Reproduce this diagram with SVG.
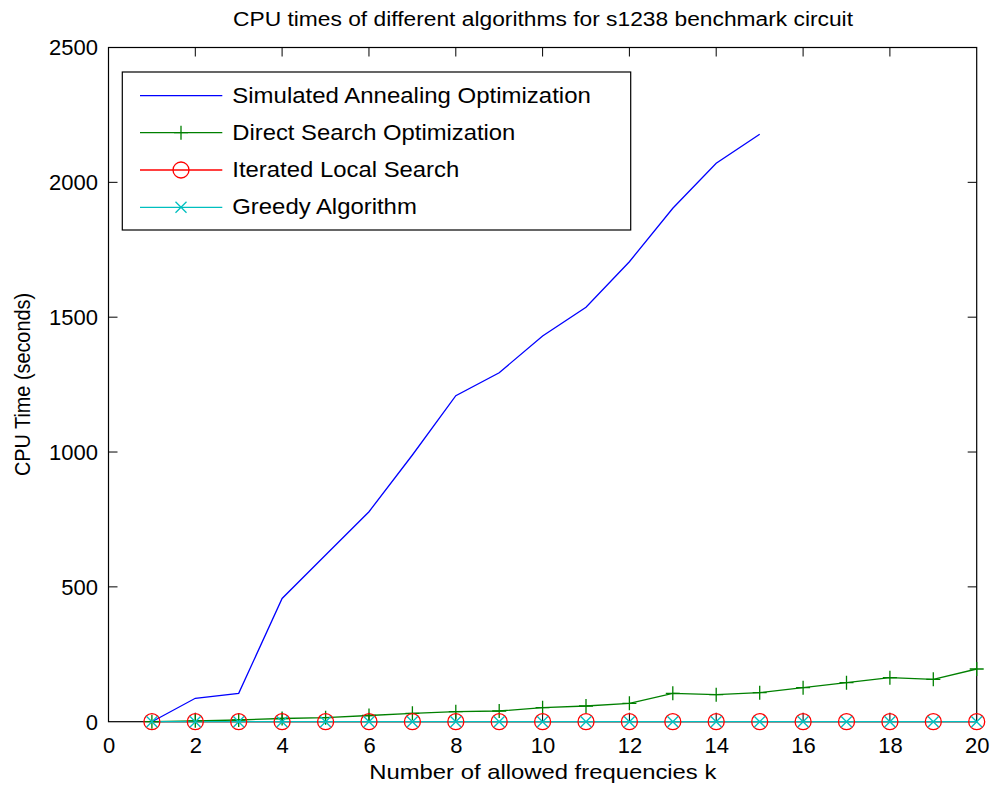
<svg xmlns="http://www.w3.org/2000/svg" width="994" height="791" viewBox="0 0 994 791">
<style>
text{font-family:"Liberation Sans",Arial,sans-serif;fill:#000}
.t{font-size:20px}
.lg{font-size:22px}
.xt{font-size:22px}
.ax{fill:none;stroke:#000;stroke-width:1.2}
.tick{stroke:#000;stroke-width:1}
.sa{fill:none;stroke:#0000ff;stroke-width:1.3}
.ds{fill:none;stroke:#008000;stroke-width:1.3}
.ils{fill:none;stroke:#ff0000;stroke-width:1.3}
.gr{fill:none;stroke:#00bfbf;stroke-width:1.3}
</style>
<defs>
<path id="mp" d="M-7,0H7M0,-7V7" fill="none" stroke="#008000" stroke-width="1.3"/>
<circle id="mc" r="8" fill="none" stroke="#ff0000" stroke-width="1.3"/>
<path id="mx" d="M-5.5,-5.5L5.5,5.5M-5.5,5.5L5.5,-5.5" fill="none" stroke="#00bfbf" stroke-width="1.3"/>
</defs>
<rect width="994" height="791" fill="#fff"/>
<g id="axes">
<rect class="ax" x="108.5" y="47.5" width="868.2" height="674.2"/>
<g class="tick">
<path d="M195.3,721.7v-9M282.1,721.7v-9M368.96,721.7v-9M455.8,721.7v-9M542.6,721.7v-9M629.4,721.7v-9M716.2,721.7v-9M803.1,721.7v-9M889.9,721.7v-9"/>
<path d="M195.3,47.5v9M282.1,47.5v9M368.96,47.5v9M455.8,47.5v9M542.6,47.5v9M629.4,47.5v9M716.2,47.5v9M803.1,47.5v9M889.9,47.5v9"/>
<path d="M108.5,586.86h9M108.5,452.02h9M108.5,317.18h9M108.5,182.34h9"/>
<path d="M976.7,586.86h-9M976.7,452.02h-9M976.7,317.18h-9M976.7,182.34h-9"/>
</g>
<g class="xt" text-anchor="middle">
<text x="109" y="752.5">0</text>
<text x="195.8" y="752.5">2</text>
<text x="282.6" y="752.5">4</text>
<text x="369.5" y="752.5">6</text>
<text x="456.3" y="752.5">8</text>
<text x="543.1" y="752.5">10</text>
<text x="629.9" y="752.5">12</text>
<text x="716.7" y="752.5">14</text>
<text x="803.6" y="752.5">16</text>
<text x="890.4" y="752.5">18</text>
<text x="977.2" y="752.5">20</text>
</g>
<g class="xt" text-anchor="end">
<text x="98" y="729.5">0</text>
<text x="98" y="594.7">500</text>
<text x="98" y="459.8">1000</text>
<text x="98" y="325">1500</text>
<text x="98" y="190.1">2000</text>
<text x="98" y="55.3">2500</text>
</g>
<text font-size="21" x="369.3" y="779.3" textLength="347" lengthAdjust="spacingAndGlyphs">Number of allowed frequencies k</text>
<text font-size="22" transform="translate(29.5,476) rotate(-90)" textLength="183" lengthAdjust="spacingAndGlyphs">CPU Time (seconds)</text>
<text font-size="20" x="233" y="26" textLength="620" lengthAdjust="spacingAndGlyphs">CPU times of different algorithms for s1238 benchmark circuit</text>
</g>
<g id="connectors">
<polyline id="sa-line" class="sa" points="151.9,721.7 195.3,698.3 238.7,693.3 282.1,598.5 325.6,555 369,511.7 412.4,455 455.8,395.7 499.2,372.7 542.6,336 586,307.3 629.4,261.7 672.8,208.3 716.2,163.3 759.7,134.3"/>
<polyline id="ds-line" class="ds" points="151.9,721.7 195.3,720.8 238.7,720 282.1,718.5 325.6,717.7 369,715.5 412.4,713.3 455.8,711.7 499.2,711 542.6,707.7 586,706 629.4,703.3 672.8,693.3 716.2,694.7 759.7,692.7 803.1,687.7 846.5,682.7 889.9,677.7 933.3,679.3 976.7,669"/>
<polyline id="ils-line" class="ils" points="151.9,721.7 976.7,721.7"/>
<polyline id="gr-line" class="gr" points="151.9,721.7 976.7,721.7"/>
</g>
<g id="ds-markers">
<use href="#mp" x="151.9" y="721.7"/><use href="#mp" x="195.3" y="720.8"/><use href="#mp" x="238.7" y="720"/><use href="#mp" x="282.1" y="718.5"/><use href="#mp" x="325.6" y="717.7"/><use href="#mp" x="369" y="715.5"/><use href="#mp" x="412.4" y="713.3"/><use href="#mp" x="455.8" y="711.7"/><use href="#mp" x="499.2" y="711"/><use href="#mp" x="542.6" y="707.7"/><use href="#mp" x="586" y="706"/><use href="#mp" x="629.4" y="703.3"/><use href="#mp" x="672.8" y="693.3"/><use href="#mp" x="716.2" y="694.7"/><use href="#mp" x="759.7" y="692.7"/><use href="#mp" x="803.1" y="687.7"/><use href="#mp" x="846.5" y="682.7"/><use href="#mp" x="889.9" y="677.7"/><use href="#mp" x="933.3" y="679.3"/><use href="#mp" x="976.7" y="669"/>
</g>
<g id="ils-markers">
<use href="#mc" x="151.9" y="721.7"/><use href="#mc" x="195.3" y="721.7"/><use href="#mc" x="238.7" y="721.7"/><use href="#mc" x="282.1" y="721.7"/><use href="#mc" x="325.6" y="721.7"/><use href="#mc" x="369" y="721.7"/><use href="#mc" x="412.4" y="721.7"/><use href="#mc" x="455.8" y="721.7"/><use href="#mc" x="499.2" y="721.7"/><use href="#mc" x="542.6" y="721.7"/><use href="#mc" x="586" y="721.7"/><use href="#mc" x="629.4" y="721.7"/><use href="#mc" x="672.8" y="721.7"/><use href="#mc" x="716.2" y="721.7"/><use href="#mc" x="759.7" y="721.7"/><use href="#mc" x="803.1" y="721.7"/><use href="#mc" x="846.5" y="721.7"/><use href="#mc" x="889.9" y="721.7"/><use href="#mc" x="933.3" y="721.7"/><use href="#mc" x="976.7" y="721.7"/>
</g>
<g id="gr-markers">
<use href="#mx" x="151.9" y="721.7"/><use href="#mx" x="195.3" y="721.7"/><use href="#mx" x="238.7" y="721.7"/><use href="#mx" x="282.1" y="721.7"/><use href="#mx" x="325.6" y="721.7"/><use href="#mx" x="369" y="721.7"/><use href="#mx" x="412.4" y="721.7"/><use href="#mx" x="455.8" y="721.7"/><use href="#mx" x="499.2" y="721.7"/><use href="#mx" x="542.6" y="721.7"/><use href="#mx" x="586" y="721.7"/><use href="#mx" x="629.4" y="721.7"/><use href="#mx" x="672.8" y="721.7"/><use href="#mx" x="716.2" y="721.7"/><use href="#mx" x="759.7" y="721.7"/><use href="#mx" x="803.1" y="721.7"/><use href="#mx" x="846.5" y="721.7"/><use href="#mx" x="889.9" y="721.7"/><use href="#mx" x="933.3" y="721.7"/><use href="#mx" x="976.7" y="721.7"/>
</g>
<g id="legend">
<rect x="122.3" y="72" width="508.4" height="158" fill="#fff" stroke="#000" stroke-width="1.2"/>
<path class="sa" d="M140,95.7H222.3"/>
<path class="ds" d="M140,132.7H222.3"/><use href="#mp" x="181" y="132.7"/>
<path class="ils" d="M140,170H222.3"/><use href="#mc" x="181" y="170"/>
<path class="gr" d="M140,207.3H222.3"/><use href="#mx" x="181" y="207.3"/>
<g class="lg">
<text x="232.3" y="102.5" textLength="358.5" lengthAdjust="spacingAndGlyphs">Simulated Annealing Optimization</text>
<text x="232.3" y="139.7" textLength="283" lengthAdjust="spacingAndGlyphs">Direct Search Optimization</text>
<text x="232.3" y="177" textLength="227" lengthAdjust="spacingAndGlyphs">Iterated Local Search</text>
<text x="232.3" y="214.2" textLength="184.5" lengthAdjust="spacingAndGlyphs">Greedy Algorithm</text>
</g>
</g>
</svg>
